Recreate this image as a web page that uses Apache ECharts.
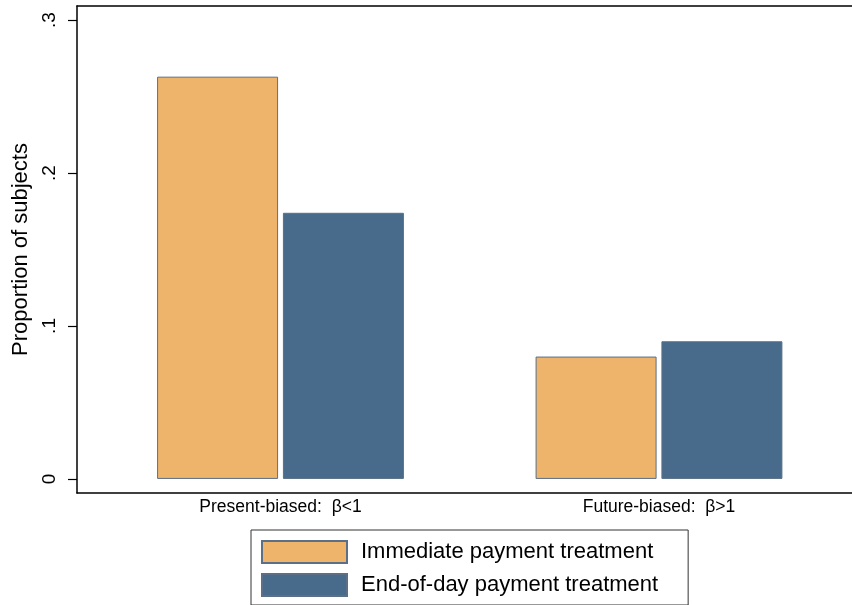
<!DOCTYPE html>
<html>
<head>
<meta charset="utf-8">
<script src="https://cdn.jsdelivr.net/npm/echarts@6/dist/echarts.min.js"></script>
<style>
  html, body { margin: 0; padding: 0; background: #fff; }
  #chart { width: 852px; height: 605px; }
</style>
</head>
<body>
<div id="chart"></div>
<script>
// data
const categories = ['Present-biased:  \u03b2<1', 'Future-biased:  \u03b2>1'];
const immediate = [0.263, 0.080];
const endOfDay = [0.174, 0.090];
const yTicks = [0, 0.1, 0.2, 0.3];

const FONT = 'Liberation Sans, Arial, sans-serif';
const yMin = -0.0092, yMax = 0.3092;

const chart = echarts.init(document.getElementById('chart'), null, { renderer: 'canvas' });

const frameLine = { show: true, onZero: false, lineStyle: { color: '#000', width: 1.5 } };

const option = {
  backgroundColor: '#fff',
  animation: false,
  textStyle: { fontFamily: FONT, color: '#000' },
  grid: [
    // frame (axes box)
    { left: 77, right: 0, top: 6, bottom: 112 },
    // bars
    { left: 91.25, right: 3.75, top: 6, bottom: 112 }
  ],
  xAxis: [
    {
      gridIndex: 0, type: 'value', min: 0, max: 1, position: 'bottom',
      axisLine: frameLine,
      axisTick: { show: false }, axisLabel: { show: false }, splitLine: { show: false }
    },
    {
      gridIndex: 0, type: 'value', min: 0, max: 1, position: 'top',
      axisLine: frameLine,
      axisTick: { show: false }, axisLabel: { show: false }, splitLine: { show: false }
    },
    {
      gridIndex: 1, type: 'category', data: categories,
      axisLine: { show: false }, axisTick: { show: false },
      axisLabel: { fontSize: 17.5, color: '#000', margin: 5, fontFamily: FONT }
    }
  ],
  yAxis: [
    {
      gridIndex: 0, type: 'value', min: yMin, max: yMax,
      name: 'Proportion of subjects', nameLocation: 'middle', nameGap: 31,
      nameTextStyle: { fontSize: 22, color: '#000', fontFamily: FONT },
      axisLine: frameLine,
      axisTick: { show: true, length: 9, customValues: yTicks, lineStyle: { color: '#000', width: 1.2 } },
      axisLabel: {
        rotate: 90, fontSize: 19, color: '#000', margin: 18, fontFamily: FONT,
        customValues: yTicks,
        formatter: v => v === 0 ? '0' : String(Math.round(v * 10) / 10).replace(/^0/, '')
      },
      splitLine: { show: false }
    },
    {
      gridIndex: 1, type: 'value', min: yMin, max: yMax, show: false
    }
  ],
  legend: {
    orient: 'vertical', left: 251, top: 530,
    icon: 'rect',
    itemWidth: 85, itemHeight: 22, itemGap: 9,
    padding: [10, 30, 8, 10],
    borderColor: '#333', borderWidth: 1,
    textStyle: { fontSize: 22, color: '#000', fontFamily: FONT, padding: [0, 0, 0, 9] },
    data: ['Immediate payment treatment', 'End-of-day payment treatment']
  },
  series: [
    {
      name: 'Immediate payment treatment', type: 'bar',
      xAxisIndex: 2, yAxisIndex: 1,
      data: immediate, barWidth: 121, barGap: '4%',
      itemStyle: { color: '#EEB46C', borderColor: '#5b6f86', borderWidth: 1 }
    },
    {
      name: 'End-of-day payment treatment', type: 'bar',
      xAxisIndex: 2, yAxisIndex: 1,
      data: endOfDay, barWidth: 121, barGap: '4%',
      itemStyle: { color: '#486B8C', borderColor: '#5b6f86', borderWidth: 1 }
    }
  ]
};

chart.setOption(option);
</script>
</body>
</html>
